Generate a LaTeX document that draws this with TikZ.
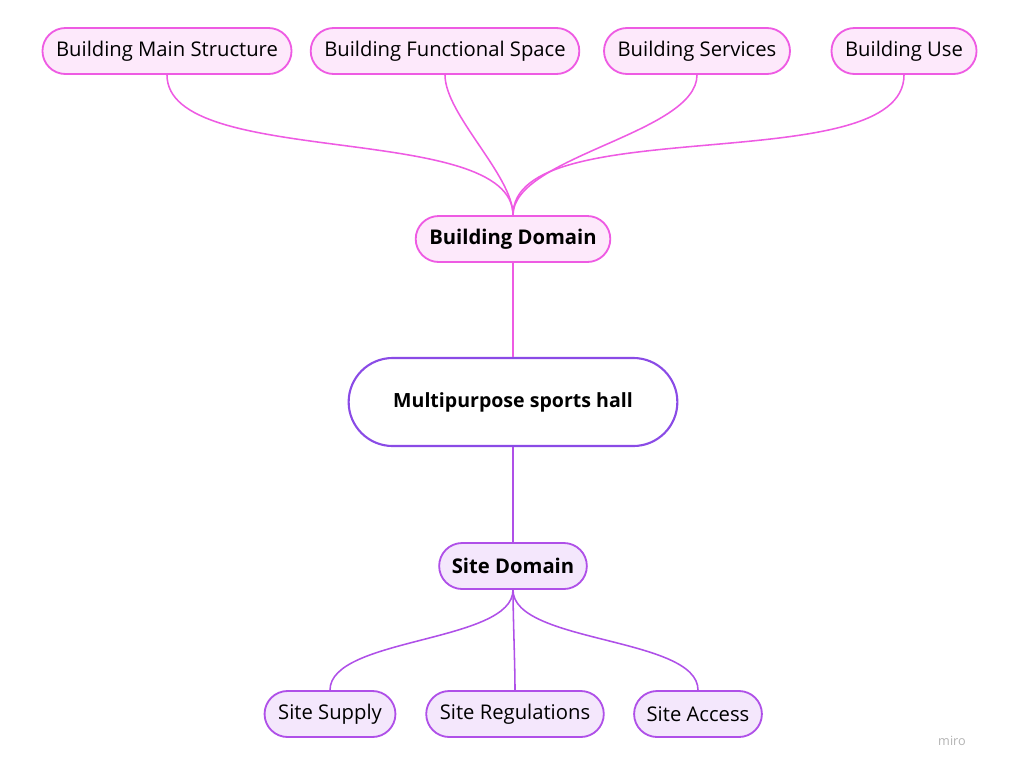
\documentclass[tikz,border=0pt]{standalone}
\usepackage{fontspec}
\setmainfont{Open Sans}
\usetikzlibrary{shapes.misc,positioning}
\definecolor{bpink}{HTML}{EE5BE3}
\definecolor{bpinkfill}{HTML}{FDE9FB}
\definecolor{hallpurple}{HTML}{8A4BE6}
\definecolor{spurple}{HTML}{AF50E8}
\definecolor{spurplefill}{HTML}{F4E7FC}
\begin{document}
\begin{tikzpicture}[x=0.025cm,y=-0.025cm,
            topic/.style={rounded rectangle, draw, line width=1.3pt,
                    minimum height=1.15cm, inner xsep=8pt, font=\Large},
            build/.style={topic, draw=bpink, fill=bpinkfill},
            site/.style={topic, draw=spurple, fill=spurplefill},
            link/.style={line width=1.1pt, looseness=0.65}]

        \useasboundingbox (0,0) rectangle (1024,770);

        \node[build] (main) at (167,51) {Building Main Structure};
        \node[build] (func) at (445,51) {Building Functional Space};
        \node[build] (serv) at (697,51) {Building Services};
        \node[build] (use)  at (904,51) {Building Use};
        \node[build,font=\Large\bfseries] (bdom) at (513,239) {Building Domain};

        \node[rounded rectangle, draw=hallpurple, fill=white, line width=1.5pt,
              minimum width=8.45cm, minimum height=2.2cm,
              font=\fontsize{13.9}{16}\selectfont\bfseries]
              (hall) at (513,402) {Multipurpose sports hall};

        \node[site,font=\Large\bfseries] (sdom) at (513,566) {Site Domain};
        \node[site] (supp) at (330,714) {Site Supply};
        \node[site] (regs) at (515,714) {Site Regulations};
        \node[site] (acc)  at (698,714) {Site Access};

        \node[text=gray!60, font=\small] (miro) at (952,741) {miro};

        % building side
        \foreach \n in {main,func,serv,use}
            \draw[link, bpink] (bdom.north) to[out=90,in=-90] (\n.south);
        \draw[link, bpink] (bdom.south) -- (hall.north);

        % site side
        \draw[link, spurple] (hall.south) -- (sdom.north);
        \foreach \n in {supp,regs,acc}
            \draw[link, spurple] (sdom.south) to[out=-90,in=90] (\n.north);
    \end{tikzpicture}
\end{document}
